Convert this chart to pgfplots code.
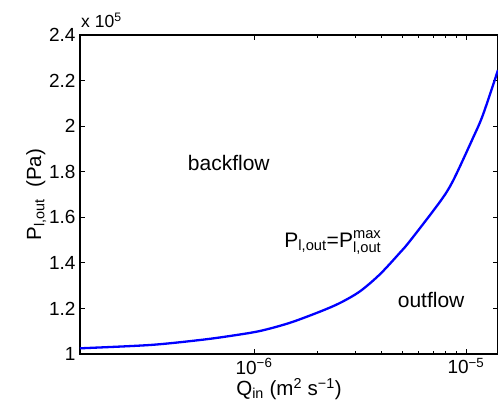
\documentclass[border=0pt]{standalone}
\usepackage{amsmath}
\usepackage{fontspec}
\setmainfont{Liberation Sans}
\usepackage{pgfplots}
\pgfplotsset{compat=1.18}
\begin{document}
\begin{tikzpicture}
\begin{axis}[
  at={(0pt,0pt)}, anchor=south west,
  scale only axis,
  width=418pt, height=319pt,
  xmode=log,
  xmin=1.51e-7, xmax=1.416e-5,
  ymin=1, ymax=2.4,
  xtick={1e-6,1e-5},
  xticklabels={10$^{\text{−6}}$,10$^{\text{−5}}$},
  ytick={1,1.2,1.4,1.6,1.8,2,2.2,2.4},
  yticklabels={1,1.2,1.4,1.6,1.8,2,2.2,2.4},
  /pgf/number format/assume math mode=true,
  tick align=inside,
  major tick length=5pt,
  minor tick length=3pt,
  axis line style={line width=1.4pt},
  every tick/.style={black, line width=0.9pt},
  ticklabel style={font=\fontsize{19}{22}\selectfont},
  yticklabel style={xshift=-1pt},
  xticklabel style={yshift=-1pt},
  label style={font=\fontsize{20.5}{24}\selectfont},
  xlabel={Q$_{\text{in}}$ (m$^{\text{2}}$ s$^{\text{−1}}$)},
  ylabel={P$_{\text{l,out}}$\ \ (Pa)},
  xlabel style={yshift=3pt},
  ylabel style={yshift=-4pt},
  clip mode=individual,
]
\addplot[blue, line width=2.3pt, smooth, tension=0.5] coordinates {
(1.51e-7,1.025)
(3.23e-7,1.0395)
(5.56e-7,1.0614)
(7.70e-7,1.079)
(1.067e-6,1.101)
(1.478e-6,1.137)
(2.048e-6,1.186)
(2.545e-6,1.224)
(3.162e-6,1.275)
(3.929e-6,1.350)
(4.884e-6,1.445)
(5.442e-6,1.496)
(7.54e-6,1.668)
(8.686e-6,1.760)
(1.079e-5,1.948)
(1.203e-5,2.050)
(1.416e-5,2.246)
};
\node[font=\fontsize{21}{25}\selectfont] at (rel axis cs:0.356,0.599) {backflow};
\node[font=\fontsize{21}{25}\selectfont] at (rel axis cs:0.605,0.35) {$\text{P}_{\text{l,out}}\text{=}\text{P}^{\text{max}}_{\text{l,out}}$};
\node[font=\fontsize{21}{25}\selectfont] at (rel axis cs:0.840,0.169) {outflow};
\end{axis}
\node[font=\fontsize{17.5}{20}\selectfont, anchor=south west, inner sep=0pt] at (1pt,326pt) {x 10$^{\text{5}}$};
\pgfresetboundingbox
\useasboundingbox (-80pt,-56pt) rectangle (418pt,354pt);
\end{tikzpicture}
\end{document}
